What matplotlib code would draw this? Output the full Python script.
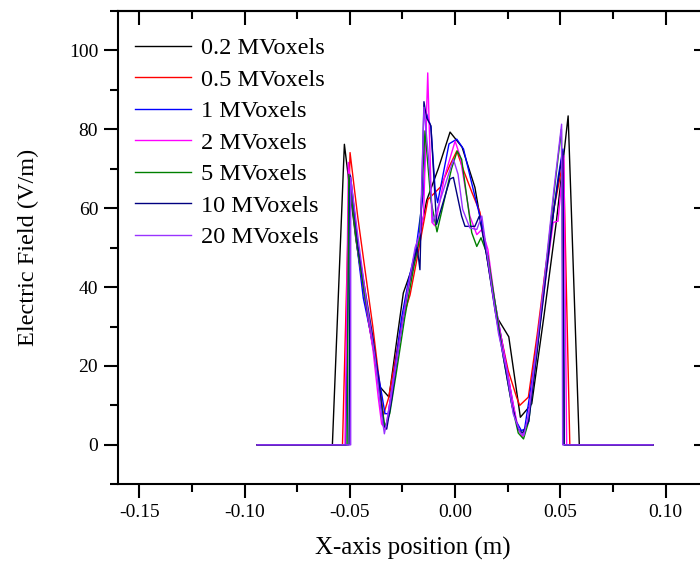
import matplotlib
matplotlib.use("Agg")
import matplotlib.pyplot as plt
from matplotlib.ticker import MultipleLocator, FormatStrFormatter

plt.rcParams['font.family'] = ['Liberation Serif', 'DejaVu Serif']
plt.rcParams['axes.unicode_minus'] = False

labels = ['0.2 MVoxels', '0.5 MVoxels', '1 MVoxels', '2 MVoxels',
          '5 MVoxels', '10 MVoxels', '20 MVoxels']
colors = ['#000000', '#ff0000', '#0000ff', '#ff00ff', '#008000', '#000080', '#9933ff']

# 0.2 MVoxels
x_02 = [-0.094, -0.0583, -0.0526, -0.0471, -0.0414, -0.0357, -0.0314, -0.0281, -0.0246,
        -0.0190, -0.0135, -0.0080, -0.0024, 0.0033, 0.0094, 0.0150, 0.0197, 0.0255,
        0.0310, 0.0364, 0.0423, 0.0482, 0.0537, 0.0590, 0.094]
y_02 = [0, 0, 76.2, 52, 32, 14.7, 12.1, 25, 38.5, 47, 62, 70, 79.3, 75.5, 65.3, 48,
        32.5, 27.4, 7, 10.4, 33, 57, 83.4, 0, 0]

# 0.5 MVoxels
x_05 = [-0.094, -0.0535, -0.0499, -0.0463, -0.0427, -0.0391, -0.0355, -0.0341, -0.0317,
        -0.0283, -0.0249, -0.0214, -0.0178, -0.0129, -0.0069, -0.0024, 0.0008, 0.0038,
        0.0080, 0.0118, 0.0156, 0.0196, 0.0252, 0.0292, 0.0307, 0.0348, 0.0390, 0.0430,
        0.0470, 0.0515, 0.0545, 0.094]
y_05 = [0, 0, 74.1, 58, 44, 30, 14, 7.5, 11.7, 22, 32, 38, 48, 62.2, 65.4, 71, 74.5,
        69.9, 64, 59, 47, 33, 18.9, 12.1, 10, 12.1, 28, 45, 60, 72.4, 0, 0]

# 1 MVoxels
x_1 = [-0.094, -0.052, -0.050, -0.0465, -0.0436, -0.040, -0.0365, -0.0333, -0.0318,
       -0.029, -0.0255, -0.022, -0.0185, -0.0150, -0.0135, -0.0115, -0.0095, -0.0083,
       -0.0029, 0.0008, 0.004, 0.0085, 0.013, 0.017, 0.021, 0.025, 0.029, 0.0315, 0.033,
       0.037, 0.041, 0.045, 0.049, 0.0512, 0.0518, 0.094]
y_1 = [0, 0, 68.6, 50, 37.2, 28, 18, 7.9, 7.9, 18, 32, 42, 50, 64, 83.9, 80.6, 64.8,
       61.4, 76.3, 77.5, 75, 65, 55.4, 42, 30, 18, 6, 3.6, 4, 18, 34, 52, 68, 75, 0, 0]

# 2 MVoxels
x_2 = [-0.094, -0.0523, -0.0507, -0.047, -0.043, -0.039, -0.0365, -0.0349, -0.033,
       -0.030, -0.026, -0.022, -0.018, -0.015, -0.013, -0.011, -0.0095, -0.005, 0.0,
       0.0023, 0.007, 0.0103, 0.0127, 0.0156, 0.019, 0.023, 0.027, 0.030, 0.032, 0.0345,
       0.039, 0.043, 0.0466, 0.0489, 0.0517, 0.053, 0.094]
y_2 = [0, 0, 71.6, 52, 38, 24, 12, 5.3, 4, 14, 28, 40, 50, 58, 94.3, 56.4, 55.5, 68,
       77, 73.3, 58, 53.3, 54.6, 49.5, 36, 24, 12, 4, 2, 6, 25, 42, 56.4, 56.7, 73.3,
       0, 0]

# 5 MVoxels
x_5 = [-0.094, -0.0513, -0.0505, -0.047, -0.043, -0.039, -0.036, -0.0333, -0.031,
       -0.028, -0.024, -0.020, -0.017, -0.0143, -0.0115, -0.0086, -0.0017, 0.001, 0.0031,
       0.0079, 0.0103, 0.0123, 0.0156, 0.019, 0.023, 0.027, 0.030, 0.0325, 0.035, 0.039,
       0.043, 0.047, 0.0505, 0.0518, 0.094]
y_5 = [0, 0, 68.6, 52, 38, 26, 14, 4.5, 8, 18, 32, 44, 52, 79.6, 62, 54, 70, 74.5, 72.4,
       53.8, 50.3, 52.5, 47.8, 36, 22, 10, 3, 1.5, 6, 24, 44, 64, 80, 0, 0]

# 10 MVoxels
x_10 = [-0.094, -0.0504, -0.0497, -0.046, -0.043, -0.039, -0.036, -0.034, -0.0325,
        -0.030, -0.027, -0.023, -0.020, -0.018, -0.0167, -0.0148, -0.0136, -0.0115,
        -0.0088, -0.0024, -0.0008, 0.0031, 0.0047, 0.0094, 0.0115, 0.015, 0.019, 0.023,
        0.027, 0.030, 0.032, 0.035, 0.039, 0.043, 0.047, 0.0512, 0.0518, 0.094]
y_10 = [0, 0, 68.2, 50, 40, 27, 15, 5, 4, 12, 24, 38, 46, 50, 44.4, 87, 83, 80.9, 55.9,
        67.4, 67.8, 58, 55.4, 55.4, 58, 48, 34, 22, 10, 4, 3, 6, 24, 42, 60, 74.5, 0, 0]

# 20 MVoxels
x_20 = [-0.094, -0.0496, -0.0496, -0.046, -0.042, -0.038, -0.0355, -0.0336, -0.031,
        -0.027, -0.023, -0.019, -0.0165, -0.0148, -0.0125, -0.0105, -0.0008, 0.0014,
        0.0036, 0.007, 0.0103, 0.0127, 0.0174, 0.0206, 0.0245, 0.0276, 0.031, 0.0327,
        0.035, 0.039, 0.043, 0.047, 0.0506, 0.0511, 0.094]
y_20 = [0, 0, 67.8, 52, 36, 22, 10, 2.8, 10, 24, 38, 50, 54, 85.6, 72, 56.4, 72.4, 68.6,
        59.7, 55, 54.6, 58, 40, 28.3, 18.9, 7.9, 3, 2.4, 8, 26, 45, 65, 81.3, 0, 0]

xs = [x_02, x_05, x_1, x_2, x_5, x_10, x_20]
ys = [y_02, y_05, y_1, y_2, y_5, y_10, y_20]

fig = plt.figure(figsize=(7, 5.63), dpi=100)
ax = fig.add_axes([0.169, 0.1398, 0.842, 0.8407])

for x, y, c, lab in zip(xs, ys, colors, labels):
    ax.plot(x, y, color=c, lw=1.0, label=lab)

ax.set_xlim(-0.16, 0.12)
ax.set_ylim(-10, 110)
ax.xaxis.set_major_locator(MultipleLocator(0.05))
ax.xaxis.set_minor_locator(MultipleLocator(0.025))
ax.yaxis.set_major_locator(MultipleLocator(20))
ax.yaxis.set_minor_locator(MultipleLocator(10))
ax.xaxis.set_major_formatter(FormatStrFormatter('%.2f'))

for s in ax.spines.values():
    s.set_linewidth(1.5)
ax.tick_params(which='both', width=1.5, labelsize=14, pad=4.5)
ax.tick_params(which='major', length=10)
ax.tick_params(which='minor', length=6)
ax.tick_params(axis='x', which='both', direction='out', top=False)
ax.tick_params(axis='y', which='both', direction='out', right=False)
# mirrored inward ticks on the top and right
ax_t = ax.secondary_xaxis('top')
ax_t.xaxis.set_major_locator(MultipleLocator(0.05))
ax_t.xaxis.set_minor_locator(MultipleLocator(0.025))
ax_t.tick_params(which='both', direction='in', width=1.5, labeltop=False)
ax_t.tick_params(which='major', length=10)
ax_t.tick_params(which='minor', length=6)
ax_t.spines['top'].set_linewidth(1.5)
ax_r = ax.secondary_yaxis('right')
ax_r.yaxis.set_major_locator(MultipleLocator(20))
ax_r.yaxis.set_minor_locator(MultipleLocator(10))
ax_r.tick_params(which='both', direction='in', width=1.5, labelright=False)
ax_r.tick_params(which='major', length=10)
ax_r.tick_params(which='minor', length=6)

ax.set_xlabel('X-axis position (m)', fontsize=18)
ax.set_ylabel('Electric Field (V/m)', fontsize=17.5)
ax.xaxis.set_label_coords(0.5, -0.112)
ax.yaxis.set_label_coords(-0.135, 0.5)

ax.legend(loc='upper left', frameon=False, fontsize=17.5, handlelength=2.3,
          handletextpad=0.4, labelspacing=0.39, borderaxespad=0.3,
          bbox_to_anchor=(0.0, 0.98))

fig.savefig('out.png', dpi=100)
